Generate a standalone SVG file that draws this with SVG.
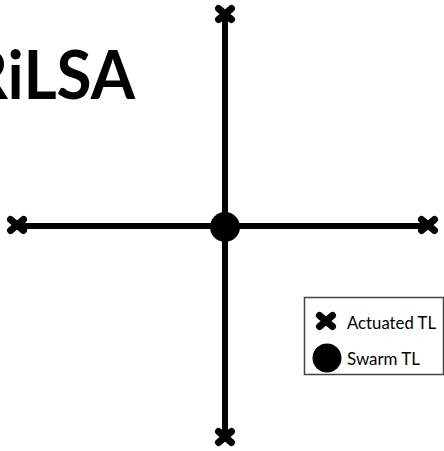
<svg xmlns="http://www.w3.org/2000/svg" width="444" height="451" viewBox="0 0 444 451">
<style>
.road{stroke:#000;stroke-width:6;fill:none}
.title{font-family:Lato,"Open Sans","Liberation Sans",sans-serif;font-weight:bold;font-size:66px;fill:#000}
.lt{font-family:Lato,"Open Sans","Liberation Sans",sans-serif;font-size:18px;fill:#000}
.box{fill:#fff;stroke:#444;stroke-width:1.5}
</style>
<defs>
<g id="xm">
<path d="M-6.5,-5.5 L6.5,5.5 M-6.5,5.5 L6.5,-5.5" stroke="#000" stroke-width="7" stroke-linecap="round" fill="none"/>
</g>
</defs>
<text class="title" x="-33" y="99" textLength="168" lengthAdjust="spacingAndGlyphs">RiLSA</text>
<g id="connectors">
<line class="road" x1="225" y1="14" x2="225" y2="437"/>
<line class="road" x1="17" y1="226" x2="428" y2="226"/>
</g>
<g id="n-top"><use href="#xm" x="225" y="14"/></g>
<g id="n-left"><use href="#xm" x="17" y="225"/></g>
<g id="n-right"><use href="#xm" x="428" y="225"/></g>
<g id="n-bottom"><use href="#xm" x="225" y="437"/></g>
<g id="n-center"><circle cx="225" cy="227" r="15" fill="#000"/></g>
<g id="legend">
<rect class="box" x="304.5" y="297.5" width="139" height="77"/>
<use href="#xm" x="326" y="321"/>
<text class="lt" x="347" y="329" textLength="89" lengthAdjust="spacingAndGlyphs">Actuated TL</text>
<circle cx="327" cy="358" r="14.5" fill="#000"/>
<text class="lt" x="347" y="365" textLength="73" lengthAdjust="spacingAndGlyphs">Swarm TL</text>
</g>
</svg>
